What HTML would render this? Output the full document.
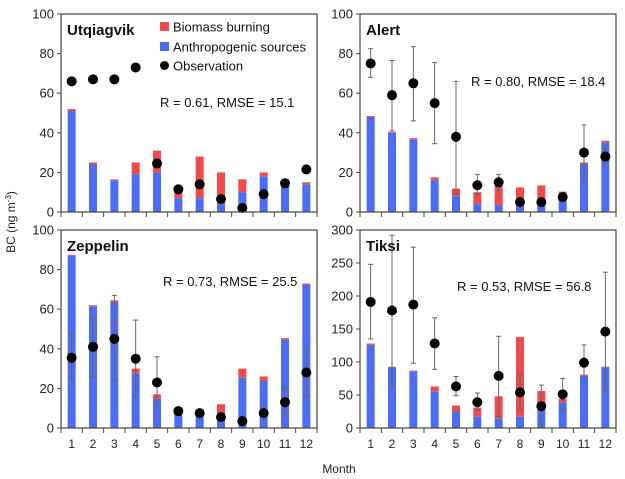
<!DOCTYPE html>
<html><head><meta charset="utf-8"><style>
body{margin:0;background:#fff;}
svg{display:block;font-family:"Liberation Sans",Arial,sans-serif;}
</style></head><body>
<svg id="c" width="625" height="479"></svg>
<script>
const months=["1","2","3","4","5","6","7","8","9","10","11","12"];
const utqAnthro=[51,24,16,19,20,7,7,4,10,18,15,14];
const utqTotal=[52,25,16.5,25,31,11,28,20,16.5,20,16.5,15];
const utqObs=[66,67,67,73,24.5,11.5,14,6.5,2,9,14.5,21.5];
const utqLo=[null,null,null,null,null,null,null,null,null,null,null,null];
const utqHi=[null,null,null,null,null,null,null,null,null,null,null,null];
const aleAnthro=[48,40,36.5,16,8,4,3.5,3,5,9.5,24,35];
const aleTotal=[48.5,40.5,37.3,17.5,11.8,10,13.7,12.4,13.4,10.3,25,36];
const aleObs=[75,59,65,55,38,13.5,15,5,5,7.5,30,28];
const aleLo=[68,41,46,34.5,9,9,11,null,null,null,16,25];
const aleHi=[82.5,76.5,83.5,75.5,66,19,19,null,null,null,44,32];
const zepAnthro=[87,61.5,63.4,27.6,14.7,6.8,6,5,25.4,23.7,44.6,72.5];
const zepTotal=[87.5,62,64.5,30,17,8,9.5,12,30,26,45.4,73];
const zepObs=[35.5,41,45,35,23,8.5,7.5,5.5,3.5,7.5,13,28];
const zepLo=[24,26,24,16,11,null,null,null,null,4,6.5,16];
const zepHi=[47,56,67,54.5,36,null,null,null,null,11,20,42];
const tikAnthro=[126,92,86,55,25,17,14,17,30,39,79,92];
const tikTotal=[128,93,87,63,34,31,48,138,56,44,81,93];
const tikObs=[191,178,187,128,63,39,79,54,33,51,99,146];
const tikLo=[135,63,98,89,49,27,17,28,0,28,76,57];
const tikHi=[248,292,274,167,78,53,139,81,65,75,126,236];
const yTicks100=[0,20,40,60,80,100];
const yTicks300=[0,50,100,150,200,250,300];

const NS="http://www.w3.org/2000/svg";
const svg=document.getElementById('c');
function mk(t,a,p){const e=document.createElementNS(NS,t);for(const k in a)e.setAttribute(k,a[k]);(p||svg).appendChild(e);return e;}

const panels=[
 {name:"utqiagvik",title:"Utqiagvik",x0:61,x1:317,y0:14,y1:212,max:100,ticks:yTicks100,a:utqAnthro,t:utqTotal,o:utqObs,lo:utqLo,hi:utqHi,stat:"R = 0.61, RMSE = 15.1",sx:160,sy:107,lab:false},
 {name:"alert",title:"Alert",x0:360,x1:616,y0:14,y1:212,max:100,ticks:yTicks100,a:aleAnthro,t:aleTotal,o:aleObs,lo:aleLo,hi:aleHi,stat:"R = 0.80, RMSE = 18.4",sx:471,sy:86,lab:false},
 {name:"zeppelin",title:"Zeppelin",x0:61,x1:317,y0:230,y1:428,max:100,ticks:yTicks100,a:zepAnthro,t:zepTotal,o:zepObs,lo:zepLo,hi:zepHi,stat:"R = 0.73, RMSE = 25.5",sx:163,sy:286,lab:true},
 {name:"tiksi",title:"Tiksi",x0:360,x1:616,y0:230,y1:428,max:300,ticks:yTicks300,a:tikAnthro,t:tikTotal,o:tikObs,lo:tikLo,hi:tikHi,stat:"R = 0.53, RMSE = 56.8",sx:457,sy:291,lab:true}
];

panels.forEach(p=>{
 const g=mk('g',{});
 
 
 const n=months.length, cw=(p.x1-p.x0)/n;
 const xs=i=>p.x0+cw*(i+0.5);
 const ys=v=>p.y1-(v/p.max)*(p.y1-p.y0);
 const bw=8;
 for(let i=0;i<n;i++){
  const r=mk('rect',{x:xs(i)-bw/2,y:ys(p.t[i]),width:bw,height:ys(p.a[i])-ys(p.t[i]),fill:'#f24a4a'},g);
  
  
  const b=mk('rect',{x:xs(i)-bw/2,y:ys(p.a[i]),width:bw,height:p.y1-ys(p.a[i]),fill:'#4a6cf7'},g);
  
  
 }
 for(let i=0;i<n;i++){
  if(p.lo[i]!==null&&p.hi[i]!==null){
   const eb=mk('g',{stroke:'#666','stroke-width':1},g);
   
   
   mk('line',{x1:xs(i),x2:xs(i),y1:ys(p.lo[i]),y2:ys(p.hi[i])},eb);
   mk('line',{x1:xs(i)-2.5,x2:xs(i)+2.5,y1:ys(p.lo[i]),y2:ys(p.lo[i])},eb);
   mk('line',{x1:xs(i)-2.5,x2:xs(i)+2.5,y1:ys(p.hi[i]),y2:ys(p.hi[i])},eb);
  }
  const c=mk('circle',{cx:xs(i),cy:ys(p.o[i]),r:5,fill:'#000'},g);
  
  
 }
 const fr=mk('rect',{x:p.x0,y:p.y0,width:p.x1-p.x0,height:p.y1-p.y0,fill:'none',stroke:'#444','stroke-width':1.2},g);
 
 
 p.ticks.forEach(v=>{
  mk('line',{x1:p.x0-4,x2:p.x0,y1:ys(v),y2:ys(v),stroke:'#444'},g);
  const t=mk('text',{x:p.x0-7,y:ys(v)+4.5,'text-anchor':'end','font-size':13,fill:'#222'},g);
  t.textContent=v;
  
  
 });
 for(let i=0;i<=n;i++){
  mk('line',{x1:p.x0+cw*i,x2:p.x0+cw*i,y1:p.y1,y2:p.y1+5,stroke:'#444'},g);
 }
 if(p.lab){
  for(let i=0;i<n;i++){
   const t=mk('text',{x:xs(i),y:p.y1+20,'text-anchor':'middle','font-size':12,fill:'#222'},g);
   t.textContent=months[i];
   
   
  }
 }
 const tt=mk('text',{x:p.x0+6,y:p.y0+21,'font-size':15,'font-weight':'bold',fill:'#111'},g);
 tt.textContent=p.title;
 
 
 const st=mk('text',{x:p.sx,y:p.sy,'font-size':13,fill:'#111'},g);
 st.textContent=p.stat;
 
 
});

// legend
const lg=mk('g',{});


const le=[["Biomass burning","#f24a4a","sq",27],["Anthropogenic sources","#4a6cf7","sq",47],["Observation","#000","c",66]];
le.forEach(l=>{
 if(l[2]==="sq") mk('rect',{x:160,y:l[3]-5,width:9,height:9,fill:l[1]},lg);
 else mk('circle',{cx:164.5,cy:l[3]-0.5,r:4.5,fill:'#000'},lg);
 const t=mk('text',{x:173,y:l[3]+4.5,'font-size':13,fill:'#111'},lg);
 t.textContent=l[0];
 
 
});

const xt=mk('text',{x:339,y:473,'text-anchor':'middle','font-size':12,fill:'#222'});
xt.textContent="Month";


const yt=mk('text',{x:0,y:0,'text-anchor':'middle','font-size':12,fill:'#222',transform:'translate(15,222) rotate(-90)'});
yt.innerHTML='BC (ng m<tspan dy="-4" font-size="8">-3</tspan><tspan dy="4">)</tspan>';


</script>
</body></html>
